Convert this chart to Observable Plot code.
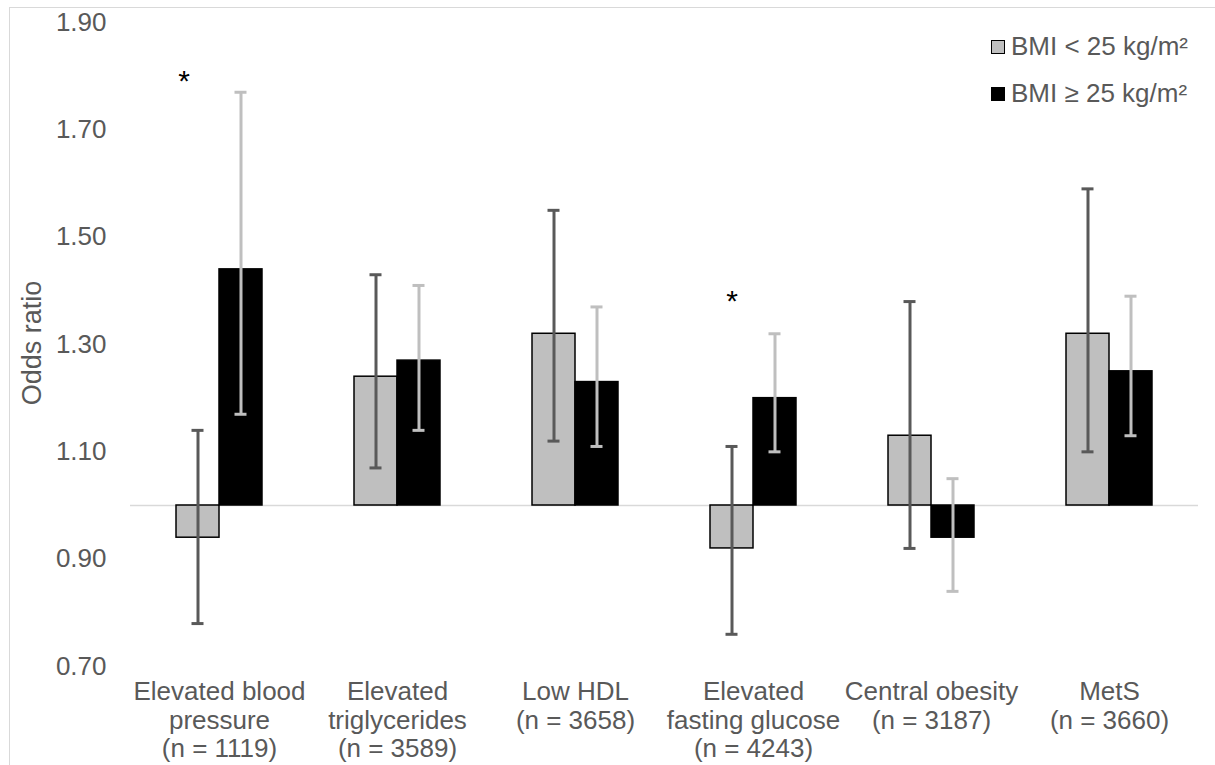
<!DOCTYPE html>
<html>
<head>
<meta charset="utf-8">
<script src="https://cdn.jsdelivr.net/npm/d3@7"></script>
<script src="https://cdn.jsdelivr.net/npm/@observablehq/plot@0.6"></script>
<style>
  html, body { margin: 0; padding: 0; background: #fff; overflow: hidden; }
  #wrap { position: relative; width: 1215px; height: 765px; overflow: hidden; font-family: "Liberation Sans", Arial, sans-serif; }
  #frame { position: absolute; left: 9px; top: 7px; width: 1400px; height: 1000px; border: 1.5px solid #d9d9d9; }
  #chart { position: absolute; left: 0; top: 0; }
  #ylabel { position: absolute; left: 32px; top: 343px; transform: translate(-50%, -50%) rotate(-90deg); font-size: 27px; color: #595959; white-space: nowrap; line-height: 1; }
  #legend { position: absolute; left: 991px; top: 23px; font-size: 26px; color: #595959; }
  #legend .row { display: flex; align-items: center; height: 47px; white-space: nowrap; }
  #legend .sw { width: 12px; height: 12px; margin-right: 6px; border: 1.5px solid #000; }
</style>
</head>
<body>
<div id="wrap">
  <div id="frame"></div>
  <div id="chart"></div>
  <div id="ylabel"></div>
  <div id="legend"></div>
</div>
<script>
// ---- data ----
const categories = ["Elevated blood\npressure", "Elevated\ntriglycerides", "Low HDL", "Elevated\nfasting glucose", "Central obesity", "MetS"];
const sampleSizes = [1119, 3589, 3658, 4243, 3187, 3660];
const seriesNames = ["BMI < 25 kg/m²", "BMI ≥ 25 kg/m²"];
const seriesFill = ["#bfbfbf", "#000000"];
const seriesErrColor = ["#595959", "#bfbfbf"];
const yLabel = "Odds ratio";

const orLow = [0.94, 1.24, 1.32, 0.92, 1.13, 1.32];
const ciLowLower = [0.78, 1.07, 1.12, 0.76, 0.92, 1.10];
const ciLowUpper = [1.14, 1.43, 1.55, 1.11, 1.38, 1.59];

const orHigh = [1.44, 1.27, 1.23, 1.20, 0.94, 1.25];
const ciHighLower = [1.17, 1.14, 1.11, 1.10, 0.84, 1.13];
const ciHighUpper = [1.77, 1.41, 1.37, 1.32, 1.05, 1.39];

const starCategoryIndex = [0, 3];
const starValues = [1.79, 1.38];

const yTicks = [0.70, 0.90, 1.10, 1.30, 1.50, 1.70, 1.90];

// ---- build table ----
const catLabels = categories.map((c, i) => `${c}\n(n = ${sampleSizes[i]})`);
const rows = [];
categories.forEach((c, i) => {
  rows.push({cat: catLabels[i], series: seriesNames[0], or: orLow[i], lo: ciLowLower[i], hi: ciLowUpper[i]});
  rows.push({cat: catLabels[i], series: seriesNames[1], or: orHigh[i], lo: ciHighLower[i], hi: ciHighUpper[i]});
});
const stars = starCategoryIndex.map((ci, k) => ({cat: catLabels[ci], series: seriesNames[0], y: starValues[k]}));

const errMarks = [];
seriesNames.forEach((s, si) => {
  const d = rows.filter(r => r.series === s);
  errMarks.push(
    Plot.ruleX(d, {fx: "cat", x: "series", y1: "lo", y2: "hi", stroke: seriesErrColor[si], strokeWidth: 3}),
    Plot.tickY(d, {fx: "cat", x: "series", y: "lo", stroke: seriesErrColor[si], strokeWidth: 3, insetLeft: 15.5, insetRight: 15.5}),
    Plot.tickY(d, {fx: "cat", x: "series", y: "hi", stroke: seriesErrColor[si], strokeWidth: 3, insetLeft: 15.5, insetRight: 15.5})
  );
});

const chart = Plot.plot({
  width: 1215,
  height: 765,
  marginTop: 22,
  marginBottom: 99,
  marginLeft: 130,
  marginRight: 17,
  style: {fontFamily: '"Liberation Sans", Arial, sans-serif', fontSize: "26px", color: "#595959", background: "transparent"},
  fx: {domain: catLabels, padding: 0, label: null},
  x: {domain: seriesNames, paddingInner: 0, paddingOuter: 1.07, round: false, axis: null},
  y: {domain: [0.7, 1.9], label: null},
  color: {domain: seriesNames, range: seriesFill},
  marks: [
    Plot.axisY({ticks: yTicks, tickFormat: d3.format(".2f"), tickSize: 0, tickPadding: 24, fontSize: 26, label: null}),
    Plot.axisFx({anchor: "bottom", tickSize: 0, tickPadding: 14, fontSize: 26, lineHeight: 1.08, label: null}),
    Plot.ruleY([1], {stroke: "#d9d9d9", strokeWidth: 1.5}),
    Plot.barY(rows, {fx: "cat", x: "series", y1: 1, y2: "or", fill: "series", stroke: "#000", strokeWidth: 1.5}),
    ...errMarks,
    Plot.text(stars.slice(0, 1), {fx: "cat", x: "series", y: "y", text: () => "*", fill: "#000", fontSize: 30, dx: -14}),
    Plot.text(stars.slice(1), {fx: "cat", x: "series", y: "y", text: () => "*", fill: "#000", fontSize: 30})
  ]
});
document.getElementById("chart").appendChild(chart);
document.getElementById("ylabel").textContent = yLabel;

const legend = document.getElementById("legend");
seriesNames.forEach((s, i) => {
  const row = document.createElement("div");
  row.className = "row";
  const sw = document.createElement("span");
  sw.className = "sw";
  sw.style.background = seriesFill[i];
  const t = document.createElement("span");
  t.textContent = s;
  row.appendChild(sw);
  row.appendChild(t);
  legend.appendChild(row);
});
</script>
</body>
</html>
